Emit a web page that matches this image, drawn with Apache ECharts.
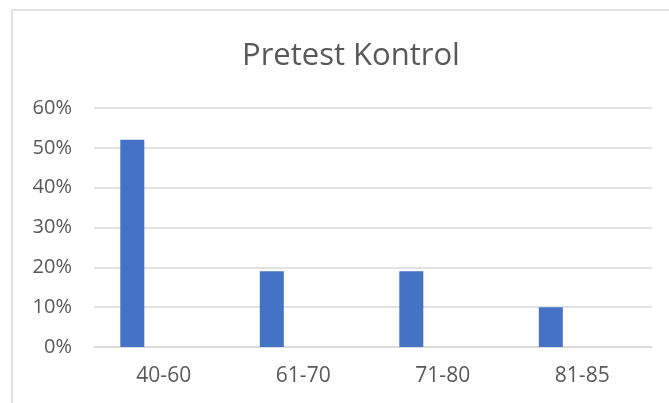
<!DOCTYPE html>
<html>
<head>
<meta charset="utf-8">
<style>
  html, body { margin: 0; padding: 0; background: #ffffff; }
  #chart { width: 669px; height: 403px; }
</style>
<script src="https://cdn.jsdelivr.net/npm/echarts@6/dist/echarts.min.js"></script>
</head>
<body>
<div id="chart"></div>
<script>
// Score bands and the share of the control group in each (percent)
const categories = ['40-60', '61-70', '71-80', '81-85'];
const pretestKontrol = [52, 19, 19, 10];
// Second, empty series slot that keeps the bars left of each band centre
const emptySeries = [null, null, null, null];
const yTicks = { min: 0, max: 60, interval: 10 };

const FONT = '"Open Sans", "Noto Sans", sans-serif';
const TEXT = '#595959';
const GRID = '#d9d9d9';

const chart = echarts.init(document.getElementById('chart'), null, { renderer: 'canvas' });
chart.setOption({
  backgroundColor: '#ffffff',
  animation: false,
  graphic: [{
    type: 'rect',
    shape: { x: 12, y: 10, width: 800, height: 600 },
    style: { fill: 'none', stroke: GRID, lineWidth: 1.5 },
    silent: true
  }],
  title: {
    text: 'Pretest Kontrol',
    left: 346,
    textAlign: 'center',
    top: 36,
    textStyle: { fontFamily: FONT, fontSize: 31, fontWeight: 'normal', color: TEXT }
  },
  grid: { left: 94, right: 17, top: 108, bottom: 56, containLabel: false },
  xAxis: {
    type: 'category',
    data: categories,
    axisLine: { show: true, lineStyle: { color: GRID, width: 1.5 } },
    axisTick: { show: false },
    axisLabel: { color: TEXT, fontFamily: FONT, fontSize: 21, margin: 19 }
  },
  yAxis: {
    type: 'value',
    min: yTicks.min,
    max: yTicks.max,
    interval: yTicks.interval,
    axisLine: { show: false },
    axisTick: { show: false },
    splitLine: { lineStyle: { color: GRID, width: 1.5 } },
    axisLabel: { color: TEXT, fontFamily: FONT, fontSize: 20, margin: 22, formatter: '{value}%' }
  },
  series: [
    {
      name: 'Pretest Kontrol',
      type: 'bar',
      data: pretestKontrol,
      barWidth: 24,
      barGap: '162%',
      itemStyle: { color: '#4472C4' }
    },
    {
      name: 'Seri 2',
      type: 'bar',
      data: emptySeries,
      barWidth: 24,
      itemStyle: { color: '#ED7D31' }
    }
  ]
});
</script>
</body>
</html>
